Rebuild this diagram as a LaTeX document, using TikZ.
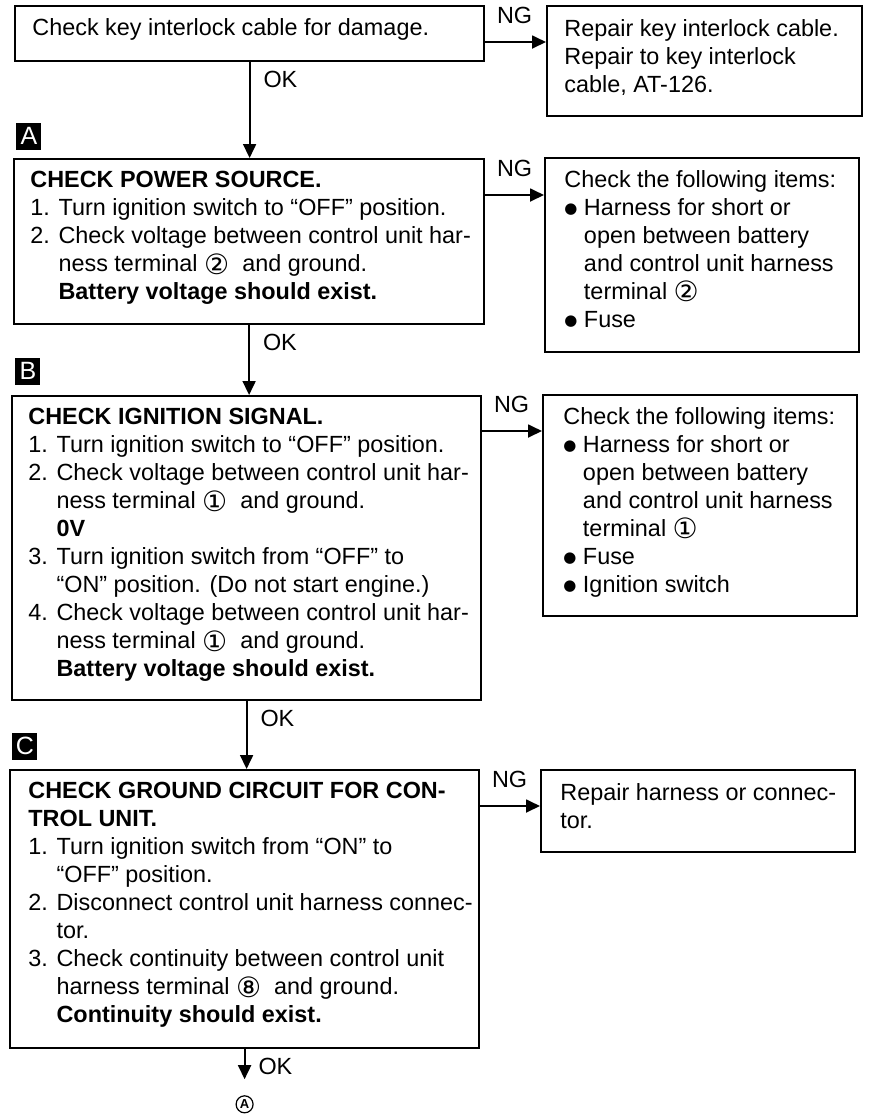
\documentclass[tikz,border=0pt]{standalone}
\usepackage{fontspec}
\setmainfont{Liberation Sans}
\newfontfamily\circfont{DejaVu Sans}
\usetikzlibrary{arrows.meta,positioning}
\newcommand{\circd}[1]{\smash{\raisebox{-1.3pt}{\circfont\fontsize{14}{14}\selectfont#1}}}
\newcommand{\bul}{\raisebox{0.9pt}{\circfont\fontsize{7.5}{14}\selectfont ●}}
\newcommand{\numind}{\phantom{1. }}
\newcommand{\dotind}{\phantom{\bul\ }}

\begin{document}
\begin{tikzpicture}[x=0.5pt, y=-0.5pt,
  font=\fontsize{11.7}{14}\selectfont,
  stepframe/.style 2 args={draw, line width=1.1pt, anchor=north west, inner sep=0,
    minimum width=#1, minimum height=#2},
  stepbody/.style={align=left, inner sep=0},
  steptag/.style={fill=black, text=white, inner sep=0, minimum width=12.5pt,
    minimum height=13.5pt, font=\fontsize{12.5}{12.5}\selectfont},
  flow/.style={line width=0.9pt, -{Triangle[length=7pt, width=6.5pt]}},
  oklabel/.style={at start, anchor=north west, inner sep=0, xshift=6.5pt, yshift=-4pt},
  nglabel/.style={at start, anchor=south west, inner sep=0, xshift=5.5pt, yshift=8.5pt}]
  \useasboundingbox (0,0) rectangle (869,1116);

  \node[stepframe={234.5pt}{27.5pt}] (chkK) at (14,5) {};
  \node[stepframe={157.5pt}{55pt}] (fixK) at (546,5) {};
  \node[stepframe={235pt}{82.5pt}] (chkA) at (13,158) {};
  \node[stepframe={157pt}{97pt}] (fixA) at (544,157) {};
  \node[stepframe={234.5pt}{152pt}] (chkB) at (11,395) {};
  \node[stepframe={157pt}{110.5pt}] (fixB) at (542,394) {};
  \node[stepframe={234.5pt}{139pt}] (chkC) at (9,769) {};
  \node[stepframe={157pt}{41pt}] (fixC) at (540,769) {};

  \node[steptag, above right=4pt and 1.5pt of chkA.north west] (tagA) {A};
  \node[steptag, above right=5pt and 2pt of chkB.north west] (tagB) {B};
  \node[steptag, above right=4.5pt and 1.5pt of chkC.north west] (tagC) {C};

  \node[stepbody, below right=6.5pt and 9pt of chkK.north west] (txtK)
    {Check key interlock cable for damage.};
  \node[stepbody, below right=7pt and 9pt of fixK.north west] (txtFK)
    {Repair key interlock cable.\\
     Repair to key interlock\\
     cable, AT-126.};
  \node[stepbody, below right=6.5pt and 8.5pt of chkA.north west] (txtA)
    {\textbf{CHECK POWER SOURCE.}\\
     1. Turn ignition switch to “OFF” position.\\
     2. Check voltage between control unit har-\\
     \numind ness terminal \circd{②}~ and ground.\\
     \numind\textbf{Battery voltage should exist.}};
  \node[stepbody, below right=6.5pt and 10pt of fixA.north west] (txtFA)
    {Check the following items:\\
     \bul\ Harness for short or\\
     \dotind open between battery\\
     \dotind and control unit harness\\
     \dotind terminal \circd{②}\\
     \bul\ Fuse};
  \node[stepbody, below right=6.5pt and 8.5pt of chkB.north west] (txtB)
    {\textbf{CHECK IGNITION SIGNAL.}\\
     1. Turn ignition switch to “OFF” position.\\
     2. Check voltage between control unit har-\\
     \numind ness terminal \circd{①}~ and ground.\\
     \numind\textbf{0V}\\
     3. Turn ignition switch from “OFF” to\\
     \numind “ON” position. (Do not start engine.)\\
     4. Check voltage between control unit har-\\
     \numind ness terminal \circd{①}~ and ground.\\
     \numind\textbf{Battery voltage should exist.}};
  \node[stepbody, below right=6.5pt and 10.5pt of fixB.north west] (txtFB)
    {Check the following items:\\
     \bul\ Harness for short or\\
     \dotind open between battery\\
     \dotind and control unit harness\\
     \dotind terminal \circd{①}\\
     \bul\ Fuse\\
     \bul\ Ignition switch};
  \node[stepbody, below right=6.5pt and 9.5pt of chkC.north west] (txtC)
    {\textbf{CHECK GROUND CIRCUIT FOR CON-}\\
     \textbf{TROL UNIT.}\\
     1. Turn ignition switch from “ON” to\\
     \numind “OFF” position.\\
     2. Disconnect control unit harness connec-\\
     \numind tor.\\
     3. Check continuity between control unit\\
     \numind harness terminal \circd{⑧}~ and ground.\\
     \numind\textbf{Continuity should exist.}};
  \node[stepbody, below right=7pt and 10pt of fixC.north west] (txtFC)
    {Repair harness or connec-\\
     tor.};

  \node[circle, draw, line width=0.6pt, inner sep=0, minimum size=8.5pt,
    below=23pt of chkC, font=\bfseries\fontsize{6.5}{6.5}\selectfont] (endA) {A};

  \coordinate (ngK) at ([yshift=-18.5pt]chkK.north east);
  \coordinate (ngA) at ([yshift=-18.5pt]chkA.north east);
  \coordinate (ngB) at ([yshift=-18pt]chkB.north east);
  \coordinate (ngC) at ([yshift=-18.5pt]chkC.north east);
  \draw[flow] (ngK) -- node[nglabel] {NG} (ngK -| fixK.west);
  \draw[flow] (ngA) -- node[nglabel] {NG} (ngA -| fixA.west);
  \draw[flow] (ngB) -- node[nglabel] {NG} (ngB -| fixB.west);
  \draw[flow] (ngC) -- node[nglabel] {NG} (ngC -| fixC.west);

  \draw[flow] (chkK.south) -- node[oklabel] {OK} (chkK.south |- chkA.north);
  \draw[flow] (chkA.south) -- node[oklabel] {OK} (chkA.south |- chkB.north);
  \draw[flow] (chkB.south) -- node[oklabel] {OK} (chkB.south |- chkC.north);
  \draw[flow, shorten >=8pt] (chkC) -- node[oklabel] {OK} (endA);
\end{tikzpicture}
\end{document}
